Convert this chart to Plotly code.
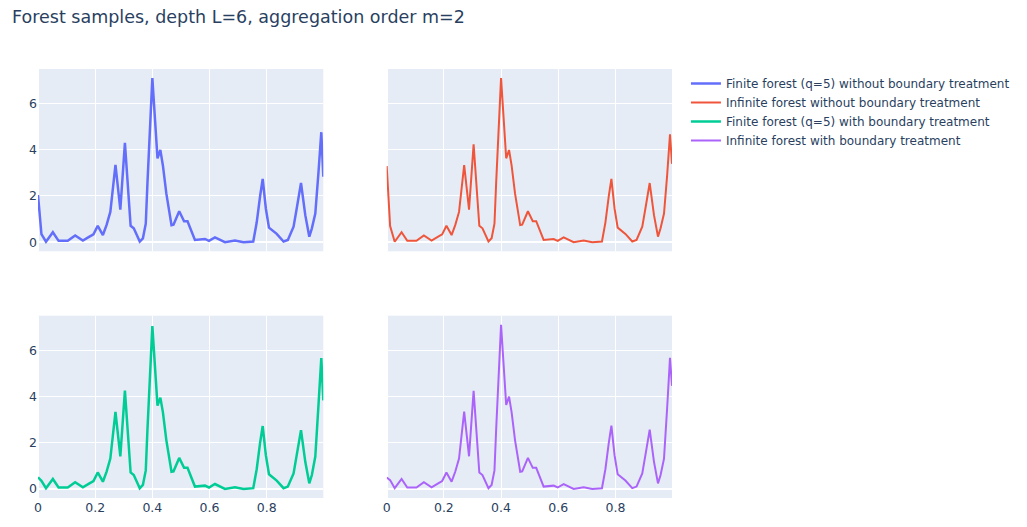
import plotly.graph_objects as go
from plotly.subplots import make_subplots

x_vals = [0.000, 0.012, 0.028, 0.052, 0.072, 0.104, 0.130, 0.157, 0.180, 0.194,
          0.209, 0.227, 0.240, 0.253, 0.271, 0.288, 0.304, 0.315, 0.324, 0.335,
          0.356, 0.367, 0.377, 0.383, 0.391, 0.400, 0.418, 0.428, 0.437, 0.449,
          0.467, 0.474, 0.494, 0.511, 0.523, 0.549, 0.584, 0.598, 0.619, 0.654,
          0.689, 0.719, 0.753, 0.765, 0.777, 0.786, 0.797, 0.808, 0.835, 0.859,
          0.874, 0.894, 0.905, 0.920, 0.935, 0.949, 0.958, 0.970, 0.981, 0.991,
          0.998]

finite_no_bt = [2.04, 0.35, 0.02, 0.43, 0.06, 0.06, 0.29, 0.07, 0.24, 0.34,
                0.71, 0.31, 0.75, 1.31, 3.35, 1.41, 4.30, 2.10, 0.71, 0.60,
                0.03, 0.17, 0.80, 2.60, 4.90, 7.10, 3.63, 3.99, 3.31, 2.10,
                0.74, 0.76, 1.34, 0.91, 0.91, 0.10, 0.14, 0.06, 0.21, 0.00,
                0.07, 0.00, 0.03, 0.85, 2.00, 2.74, 1.46, 0.63, 0.36, 0.03,
                0.10, 0.67, 1.46, 2.56, 1.17, 0.24, 0.60, 1.24, 3.00, 4.76,
                2.83]

infinite_no_bt = [3.30, 0.70, 0.02, 0.43, 0.06, 0.06, 0.29, 0.07, 0.24, 0.34,
                  0.71, 0.31, 0.75, 1.31, 3.34, 1.41, 4.24, 2.10, 0.71, 0.60,
                  0.03, 0.17, 0.80, 2.60, 4.90, 7.10, 3.63, 3.99, 3.31, 2.10,
                  0.74, 0.76, 1.34, 0.91, 0.91, 0.10, 0.14, 0.06, 0.21, 0.00,
                  0.07, 0.00, 0.03, 0.85, 2.00, 2.74, 1.46, 0.63, 0.36, 0.03,
                  0.10, 0.67, 1.46, 2.56, 1.17, 0.24, 0.60, 1.24, 2.89, 4.67,
                  3.39]

finite_bt = [0.50, 0.35, 0.03, 0.43, 0.06, 0.06, 0.29, 0.07, 0.24, 0.34,
             0.71, 0.31, 0.75, 1.31, 3.33, 1.41, 4.25, 2.10, 0.71, 0.60,
             0.03, 0.17, 0.80, 2.60, 4.90, 7.04, 3.60, 3.95, 3.31, 2.10,
             0.74, 0.76, 1.34, 0.91, 0.91, 0.10, 0.14, 0.06, 0.21, 0.00,
             0.07, 0.00, 0.03, 0.85, 2.00, 2.72, 1.46, 0.63, 0.36, 0.03,
             0.10, 0.67, 1.46, 2.54, 1.17, 0.24, 0.60, 1.40, 3.60, 5.66,
             3.83]

infinite_bt = [0.49, 0.38, 0.03, 0.43, 0.06, 0.06, 0.29, 0.07, 0.24, 0.34,
               0.71, 0.31, 0.75, 1.31, 3.34, 1.41, 4.24, 2.10, 0.71, 0.60,
               0.03, 0.17, 0.80, 2.60, 4.90, 7.10, 3.63, 3.99, 3.31, 2.10,
               0.74, 0.76, 1.34, 0.91, 0.91, 0.10, 0.14, 0.06, 0.21, 0.00,
               0.07, 0.00, 0.03, 0.85, 2.00, 2.74, 1.46, 0.63, 0.36, 0.03,
               0.10, 0.67, 1.46, 2.56, 1.17, 0.24, 0.60, 1.31, 3.50, 5.67,
               4.46]

series_names = ["Finite forest (q=5) without boundary treatment",
                "Infinite forest without boundary treatment",
                "Finite forest (q=5) with boundary treatment",
                "Infinite forest with boundary treatment"]
series_values = [finite_no_bt, infinite_no_bt, finite_bt, infinite_bt]
positions = [(1, 1), (1, 2), (2, 1), (2, 2)]
colors = ["#636efa", "#EF553B", "#00cc96", "#ab63fa"]
widths = [2.5, 2, 2.5, 2]

fig = make_subplots(rows=2, cols=2, shared_xaxes=True, shared_yaxes=True,
                    horizontal_spacing=0.1, vertical_spacing=0.15)

for name, vals, (r, c), col, w in zip(series_names, series_values, positions, colors, widths):
    fig.add_trace(go.Scatter(x=x_vals, y=vals, mode="lines", name=name,
                             line=dict(color=col, width=w)), row=r, col=c)

fig.update_layout(
    template="plotly",
    width=1019, height=519,
    font=dict(family="DejaVu Sans", size=12.5),
    title=dict(text="Forest samples, depth L=6, aggregation order m=2",
               x=0.004, xanchor="left", y=0.982, yanchor="middle",
               font=dict(size=17.5)),
    margin=dict(l=30, r=355, t=61, b=23),
    legend=dict(x=1.022, y=1, xanchor="left", yanchor="top",
                font=dict(size=12)),
)
fig.update_xaxes(tickvals=[0, 0.2, 0.4, 0.6, 0.8])
fig.update_yaxes(tickvals=[0, 2, 4, 6])

fig.write_html("out.html")
